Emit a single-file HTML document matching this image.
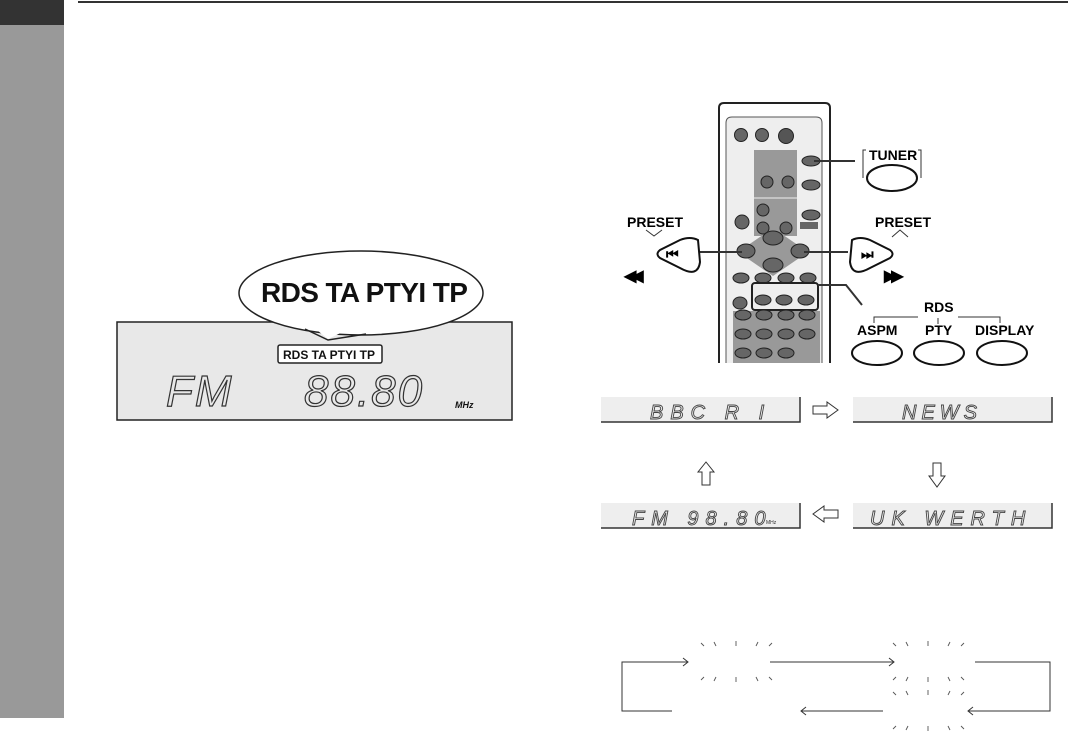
<!DOCTYPE html>
<html><head><meta charset="utf-8"><style>
body{margin:0;background:#fff;width:1068px;height:732px;overflow:hidden}
svg{display:block}
text{font-family:"Liberation Sans",sans-serif}
</style></head><body>
<svg width="1068" height="732" viewBox="0 0 1068 732">
<rect x="0" y="0" width="64" height="25" fill="#333"/>
<rect x="0" y="25" width="64" height="693" fill="#999"/>
<line x1="78" y1="2" x2="1068" y2="2" stroke="#333" stroke-width="2"/>

<!-- left display -->
<rect x="117" y="322" width="395" height="98" fill="#e8e8e8" stroke="#222" stroke-width="1.5"/>
<ellipse cx="361" cy="293" rx="122" ry="42" fill="#fff" stroke="#222" stroke-width="1.5"/>
<polygon points="302,318 328,339 372,318" fill="#fff" stroke="none"/>
<path d="M305,329 L328,340 L366,334" fill="none" stroke="#222" stroke-width="1.5"/>
<text x="261" y="302" font-size="28" font-weight="bold" fill="#111" letter-spacing="-0.6">RDS TA PTYI TP</text>
<rect x="278" y="345" width="104" height="18" rx="2" fill="#fff" stroke="#222" stroke-width="1.5"/>
<text x="283" y="359" font-size="12" font-weight="bold" fill="#111">RDS TA PTYI  TP</text>
<text x="166" y="406" font-size="44" fill="none" stroke="#333" stroke-width="1.2" font-style="italic" letter-spacing="2">FM</text>
<text x="304" y="406" font-size="44" fill="none" stroke="#333" stroke-width="1.2" font-style="italic" letter-spacing="2">88.80</text>
<text x="455" y="408" font-size="9" font-weight="bold" font-style="italic" fill="#111">MHz</text>

<!-- remote -->
<path d="M719,363 L719,108 Q719,103 724,103 L825,103 Q830,103 830,108 L830,363" fill="#fff" stroke="#222" stroke-width="2"/>
<path d="M726,363 L726,123 Q726,117 732,117 L816,117 Q822,117 822,123 L822,363" fill="#eee" stroke="#555" stroke-width="1"/>
<rect x="754" y="150" width="43" height="86" fill="#999"/>
<line x1="754" y1="198" x2="797" y2="198" stroke="#eee"/>
<circle cx="741" cy="135" r="6.5" fill="#666" stroke="#222"/>
<circle cx="762" cy="135" r="6.5" fill="#666" stroke="#222"/>
<circle cx="786" cy="136" r="7.5" fill="#555" stroke="#222"/>
<circle cx="767" cy="182" r="6" fill="#666" stroke="#222"/>
<circle cx="788" cy="182" r="6" fill="#666" stroke="#222"/>
<circle cx="763" cy="210" r="6" fill="#666" stroke="#222"/>
<circle cx="763" cy="228" r="6" fill="#666" stroke="#222"/>
<circle cx="786" cy="228" r="6" fill="#666" stroke="#222"/>
<circle cx="742" cy="222" r="7" fill="#666" stroke="#222"/>
<ellipse cx="811" cy="161" rx="9" ry="5" fill="#666" stroke="#222"/>
<ellipse cx="811" cy="185" rx="9" ry="5" fill="#666" stroke="#222"/>
<ellipse cx="811" cy="215" rx="9" ry="5" fill="#666" stroke="#222"/>
<rect x="800" y="222" width="18" height="7" fill="#666"/>
<polygon points="773,228 808,252 773,276 738,252" fill="#999"/>
<ellipse cx="773" cy="238" rx="10" ry="7" fill="#666" stroke="#222"/>
<ellipse cx="773" cy="265" rx="10" ry="7" fill="#666" stroke="#222"/>
<ellipse cx="746" cy="251" rx="9" ry="7" fill="#666" stroke="#222"/>
<ellipse cx="800" cy="251" rx="9" ry="7" fill="#666" stroke="#222"/>
<ellipse cx="741" cy="278" rx="8" ry="5" fill="#666" stroke="#222"/>
<ellipse cx="763" cy="278" rx="8" ry="5" fill="#666" stroke="#222"/>
<ellipse cx="786" cy="278" rx="8" ry="5" fill="#666" stroke="#222"/>
<ellipse cx="808" cy="278" rx="8" ry="5" fill="#666" stroke="#222"/>
<ellipse cx="740" cy="303" rx="7" ry="6" fill="#666" stroke="#222"/>
<rect x="752" y="283" width="66" height="27" rx="3" fill="none" stroke="#222" stroke-width="2"/>
<ellipse cx="763" cy="300" rx="8" ry="5" fill="#666" stroke="#222"/>
<ellipse cx="784" cy="300" rx="8" ry="5" fill="#666" stroke="#222"/>
<ellipse cx="806" cy="300" rx="8" ry="5" fill="#666" stroke="#222"/>
<rect x="733" y="311" width="87" height="52" fill="#999"/>
<g fill="#666" stroke="#222">
<ellipse cx="743" cy="315" rx="8" ry="5"/><ellipse cx="764" cy="315" rx="8" ry="5"/><ellipse cx="786" cy="315" rx="8" ry="5"/><ellipse cx="807" cy="315" rx="8" ry="5"/>
<ellipse cx="743" cy="334" rx="8" ry="5"/><ellipse cx="764" cy="334" rx="8" ry="5"/><ellipse cx="786" cy="334" rx="8" ry="5"/><ellipse cx="807" cy="334" rx="8" ry="5"/>
<ellipse cx="743" cy="353" rx="8" ry="5"/><ellipse cx="764" cy="353" rx="8" ry="5"/><ellipse cx="786" cy="353" rx="8" ry="5"/>
</g>

<!-- callouts -->
<g stroke="#333" stroke-width="2" fill="none">
<line x1="814" y1="161" x2="855" y2="161"/>
<line x1="700" y1="252" x2="742" y2="252"/>
<line x1="804" y1="252" x2="848" y2="252"/>
<polyline points="818,285 846,285 862,305"/>
</g>
<text x="869" y="160" font-size="14" font-weight="bold">TUNER</text>
<path d="M866,150 L863,150 L863,178 M918,150 L921,150 L921,178" stroke="#333" fill="none"/>
<ellipse cx="892" cy="178" rx="25" ry="13" fill="#fff" stroke="#111" stroke-width="2"/>
<text x="627" y="227" font-size="14" font-weight="bold">PRESET</text>
<polyline points="646,230 654,236 662,230" fill="none" stroke="#333"/>
<path d="M698,240 Q690,236 680,240 L660,250 Q655,254 660,258 L680,268 Q698,278 700,262 Z" fill="#fff" stroke="#111" stroke-width="2"/>
<text x="666" y="259" font-size="14" font-weight="bold">⏮</text>
<text x="624" y="281" font-size="16" font-weight="bold" letter-spacing="-5">◀◀</text>
<text x="875" y="227" font-size="14" font-weight="bold">PRESET</text>
<polyline points="892,237 900,230 908,237" fill="none" stroke="#333"/>
<path d="M852,240 Q860,236 870,240 L890,250 Q895,254 890,258 L870,268 Q852,278 850,262 Z" fill="#fff" stroke="#111" stroke-width="2"/>
<text x="861" y="259" font-size="14" font-weight="bold">⏭</text>
<text x="884" y="281" font-size="16" font-weight="bold" letter-spacing="-5">▶▶</text>
<text x="924" y="312" font-size="14" font-weight="bold">RDS</text>
<path d="M874,323 L874,317 L918,317 M958,317 L1000,317 L1000,323 M938,318 L938,324" stroke="#333" fill="none"/>
<text x="857" y="335" font-size="14" font-weight="bold">ASPM</text>
<text x="925" y="335" font-size="14" font-weight="bold">PTY</text>
<text x="975" y="335" font-size="14" font-weight="bold">DISPLAY</text>
<ellipse cx="877" cy="353" rx="25" ry="12" fill="#fff" stroke="#111" stroke-width="2"/>
<ellipse cx="939" cy="353" rx="25" ry="12" fill="#fff" stroke="#111" stroke-width="2"/>
<ellipse cx="1002" cy="353" rx="25" ry="12" fill="#fff" stroke="#111" stroke-width="2"/>

<!-- RDS display sequence -->
<g fill="#eee" stroke="none">
<rect x="601" y="397" width="199" height="25"/><rect x="853" y="397" width="199" height="25"/>
<rect x="601" y="503" width="199" height="25"/><rect x="853" y="503" width="199" height="25"/>
</g>
<g stroke="#333" stroke-width="1.5" fill="none">
<polyline points="601,422 800,422 800,397"/><polyline points="853,422 1052,422 1052,397"/>
<polyline points="601,528 800,528 800,503"/><polyline points="853,528 1052,528 1052,503"/>
</g>
<g font-size="20" font-style="italic" fill="none" stroke="#444" stroke-width="0.9">
<text x="650" y="419" letter-spacing="7">BBC R I</text>
<text x="902" y="419" letter-spacing="5">NEWS</text>
<text x="632" y="525" letter-spacing="7">FM   98.80</text>
<text x="870" y="525" letter-spacing="7">UK WERTH</text>
</g>
<text x="766" y="524" font-size="5" fill="#333">MHz</text>
<g fill="#fff" stroke="#333" stroke-width="1">
<polygon points="813,406 827,406 827,402 838,410 827,418 827,414 813,414"/>
<polygon points="838,510 824,510 824,506 813,514 824,522 824,518 838,518"/>
<polygon points="702,485 702,472 698,472 706,462 714,472 710,472 710,485"/>
<polygon points="933,463 933,476 929,476 937,487 945,476 941,476 941,463"/>
</g>

<!-- blinking diagram -->
<g stroke="#333" stroke-width="1" fill="none">
<polyline points="672,711 622,711 622,662 688,662"/>
<polyline points="683,658 688,662 683,666"/>
<line x1="770" y1="662" x2="894" y2="662"/>
<polyline points="889,658 894,662 889,666"/>
<polyline points="975,662 1050,662 1050,711 968,711"/>
<polyline points="973,707 968,711 973,715"/>
<line x1="883" y1="711" x2="801" y2="711"/>
<polyline points="806,707 801,711 806,715"/>
</g>
<g stroke="#555" stroke-width="0.9">
<g id="sp">
<line x1="701" y1="643" x2="704" y2="646"/><line x1="714" y1="642" x2="716" y2="646"/><line x1="736" y1="641" x2="736" y2="646"/><line x1="756" y1="646" x2="758" y2="642"/><line x1="769" y1="646" x2="772" y2="643"/>
<line x1="701" y1="680" x2="704" y2="677"/><line x1="714" y1="681" x2="716" y2="677"/><line x1="736" y1="682" x2="736" y2="677"/><line x1="756" y1="677" x2="758" y2="681"/><line x1="769" y1="677" x2="772" y2="680"/>
</g>
<use href="#sp" x="192" y="0"/>
<use href="#sp" x="192" y="49"/>
</g>
</svg>
</body></html>
